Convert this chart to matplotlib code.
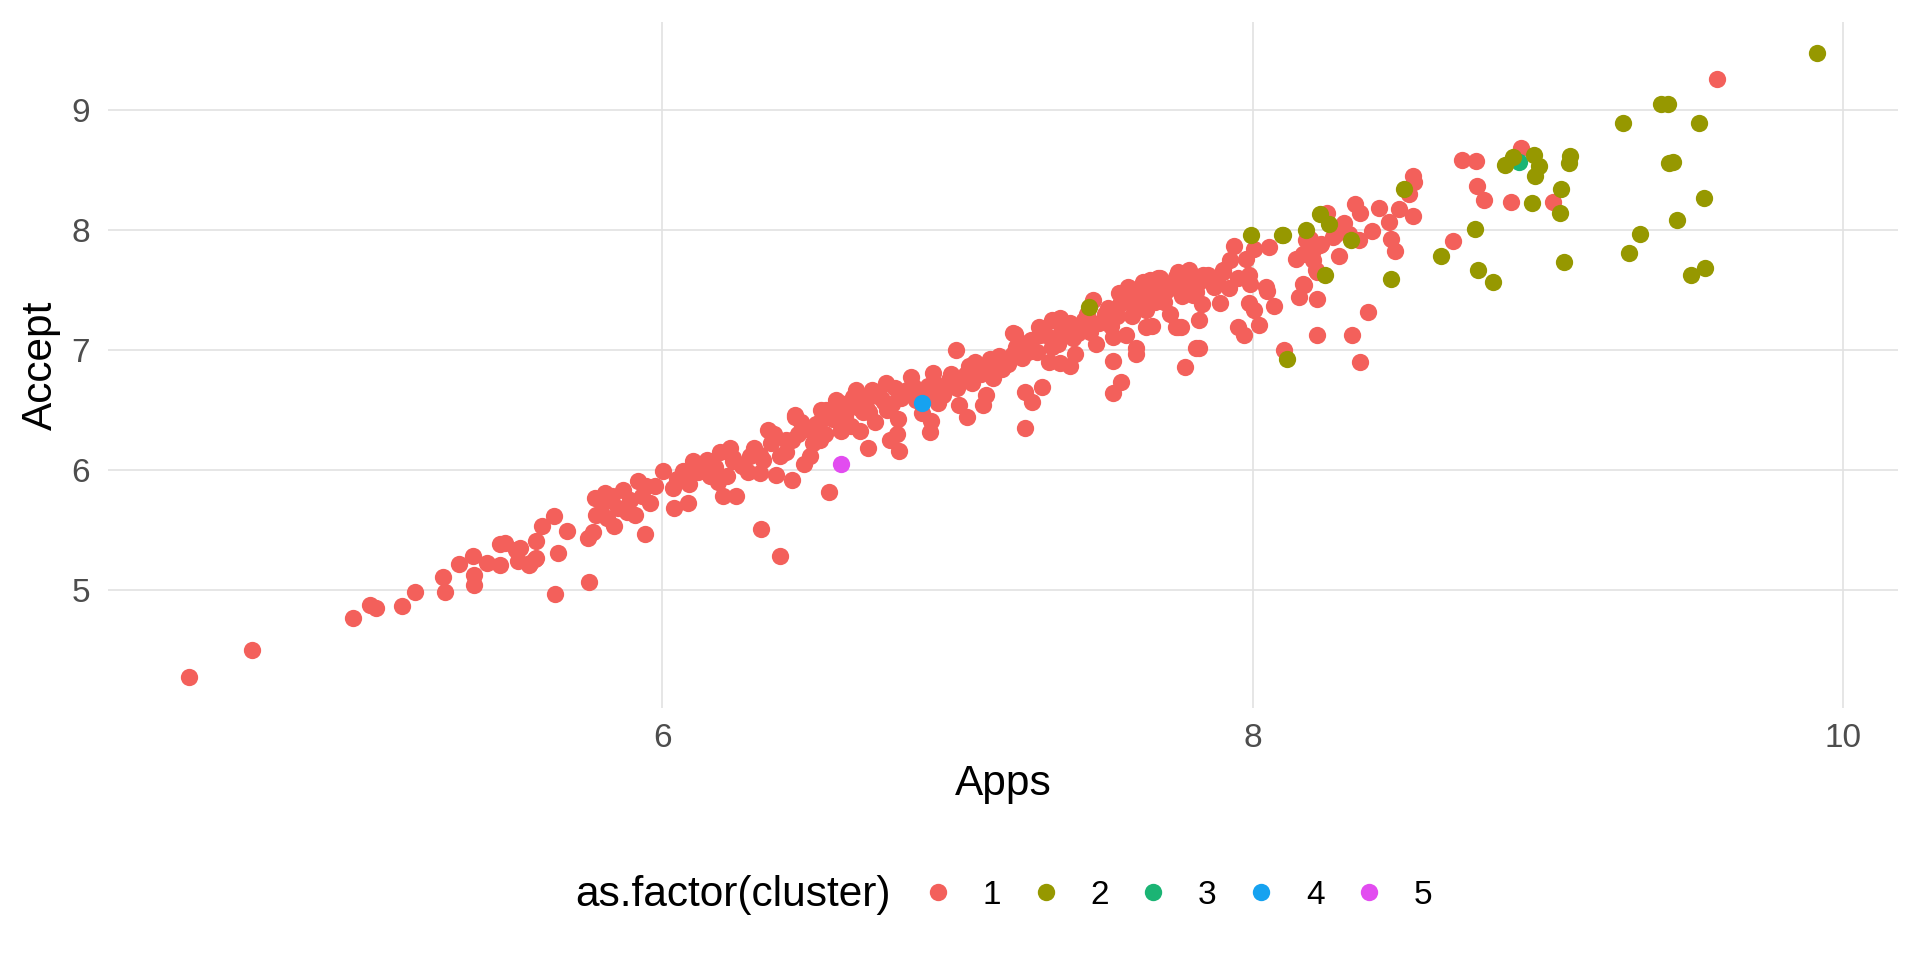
import matplotlib
matplotlib.use("Agg")
import matplotlib.pyplot as plt
from matplotlib.lines import Line2D
import numpy as np

plt.rcParams['font.family'] = ['Liberation Sans', 'DejaVu Sans']

# log(Apps), log(Accept), one list of pairs per cluster
cluster1 = [
    # lower-left tail
    (4.398, 4.273), (4.609, 4.497), (4.951, 4.766), (5.010, 4.869), (5.029, 4.844),
    (5.119, 4.863), (5.162, 4.983), (5.256, 5.107), (5.264, 4.979), (5.310, 5.215),
    (5.359, 5.278), (5.362, 5.118), (5.362, 5.035), (5.405, 5.224), (5.450, 5.376),
    (5.467, 5.390), (5.450, 5.204), (5.506, 5.334), (5.512, 5.237), (5.549, 5.209),
    (5.568, 5.257), (5.574, 5.403), (5.594, 5.534), (5.638, 4.960), (5.751, 5.060),
    (5.647, 5.302), (5.551, 5.224), (5.572, 5.265), (5.517, 5.348), (5.634, 5.617),
    (5.678, 5.487), (5.749, 5.431), (5.764, 5.478), (5.777, 5.625), (5.813, 5.598),
    (5.771, 5.764), (5.805, 5.805), (5.837, 5.534), (5.867, 5.833), (5.907, 5.625),
    (5.918, 5.902), (5.946, 5.860), (5.975, 5.860), (5.890, 5.750), (5.941, 5.465),
    (5.800, 5.720), (5.850, 5.680), (5.830, 5.780), (5.880, 5.650), (5.930, 5.780),
    (5.960, 5.720),
    # band 6.0 - 6.8
    (6.003, 5.991), (6.037, 5.847), (6.039, 5.681), (6.087, 5.722), (6.070, 5.985),
    (6.104, 6.068), (6.150, 6.082), (6.161, 5.943), (6.206, 5.777), (6.251, 5.777),
    (6.229, 6.180), (6.195, 6.151), (6.240, 6.068), (6.296, 6.110), (6.330, 5.972),
    (6.387, 5.958), (6.441, 5.916), (6.358, 6.332), (6.449, 6.442), (6.500, 6.332),
    (6.533, 6.249), (6.421, 6.249), (6.398, 6.110), (6.500, 6.110), (6.556, 6.498),
    (6.601, 6.554), (6.646, 6.609), (6.692, 6.581), (6.607, 6.318), (6.669, 6.318),
    (6.697, 6.180), (6.398, 5.278), (6.336, 5.506), (6.564, 5.811),
    (6.120, 5.980), (6.180, 6.020), (6.220, 5.950), (6.270, 6.030), (6.310, 6.180),
    (6.340, 6.080), (6.370, 6.220), (6.420, 6.150), (6.460, 6.300), (6.480, 6.050),
    (6.520, 6.380), (6.550, 6.300), (6.580, 6.420), (6.620, 6.450), (6.640, 6.360),
    (6.660, 6.520), (6.700, 6.480), (6.720, 6.400), (6.740, 6.600), (6.760, 6.500),
    (6.449, 6.456), (6.658, 6.664), (6.844, 6.775), (6.590, 6.581), (6.539, 6.498),
    (6.607, 6.332),
    (6.050, 5.920), (6.090, 5.880), (6.140, 6.020), (6.190, 5.900), (6.240, 6.100),
    (6.290, 5.980), (6.330, 6.120), (6.380, 6.300), (6.440, 6.250), (6.470, 6.400),
    (6.510, 6.220), (6.540, 6.420), (6.570, 6.500), (6.610, 6.400), (6.650, 6.580),
    (6.690, 6.520), (6.710, 6.660), (6.750, 6.560),
    # band 6.7 - 7.9
    (6.759, 6.720), (6.917, 6.803), (7.187, 7.135), (7.322, 7.246), (7.458, 7.413),
    (7.617, 7.496), (6.996, 6.997), (7.194, 7.127), (7.032, 6.442), (7.007, 6.539),
    (7.086, 6.539), (7.098, 6.623), (6.908, 6.313), (6.912, 6.406), (6.934, 6.553),
    (6.802, 6.152), (6.794, 6.299), (6.773, 6.249), (7.228, 6.351), (7.287, 6.692),
    (7.228, 6.650), (7.254, 6.567), (7.380, 6.864), (7.346, 6.890),
    (6.620, 6.550), (6.680, 6.480), (6.720, 6.620), (6.780, 6.550), (6.800, 6.420),
    (6.830, 6.660), (6.860, 6.580), (6.880, 6.470), (6.900, 6.700), (6.950, 6.620),
    (6.970, 6.750), (7.000, 6.680), (7.030, 6.800), (7.050, 6.720), (7.060, 6.900),
    (7.100, 6.850), (7.120, 6.760), (7.140, 6.950), (7.170, 6.880), (7.200, 7.020),
    (7.220, 6.930), (7.250, 7.080), (7.270, 6.980), (7.300, 7.120), (7.310, 6.900),
    (7.340, 7.050), (7.360, 7.180), (7.390, 7.100), (7.400, 6.960), (7.430, 7.250),
    (7.450, 7.150), (7.470, 7.050), (7.500, 7.300), (7.520, 7.200), (7.550, 7.380),
    (7.570, 7.120), (7.590, 7.280), (7.620, 7.420), (7.640, 7.330), (7.660, 7.200),
    (7.680, 7.500), (7.700, 7.400), (7.720, 7.300), (7.740, 7.550), (7.760, 7.450),
    (7.790, 7.580), (7.810, 7.480), (7.830, 7.380), (7.850, 7.620), (7.870, 7.520),
    (7.900, 7.660),
    (6.790, 6.680), (6.810, 6.600), (6.850, 6.700), (6.890, 6.620), (6.920, 6.720),
    (6.940, 6.660), (6.980, 6.800), (7.010, 6.740), (7.040, 6.860), (7.080, 6.800),
    (7.110, 6.920), (7.150, 6.840), (7.190, 6.960), (7.210, 7.060), (7.240, 6.980),
    (7.280, 7.120), (7.320, 7.020), (7.350, 7.150), (7.380, 7.220), (7.410, 7.140),
    (7.440, 7.300), (7.480, 7.220), (7.510, 7.350), (7.540, 7.280), (7.580, 7.400),
    (7.610, 7.340), (7.630, 7.480), (7.670, 7.400), (7.690, 7.560), (7.710, 7.500),
    (7.750, 7.600), (7.780, 7.520), (7.820, 7.560), (7.860, 7.600),
    (7.278, 7.190), (7.346, 7.260), (7.549, 7.468), (7.583, 7.510), (7.651, 7.579),
    (7.685, 7.593), (7.747, 7.648), (7.741, 7.191), (7.640, 7.190), (7.527, 7.107),
    (7.606, 7.011), (7.527, 6.642), (7.555, 6.733), (7.527, 6.905), (7.606, 6.961),
    (7.772, 6.858), (7.747, 7.191), (7.809, 7.011),
    # right of the band, 7.7 - 8.6
    (8.217, 7.648), (8.173, 7.537), (8.156, 7.440), (8.217, 7.421), (8.390, 7.310),
    (8.217, 7.119), (8.338, 7.124), (8.106, 6.997), (8.365, 6.897), (8.072, 7.362),
    (8.021, 7.202), (7.970, 7.121), (7.952, 7.185), (7.820, 7.246), (7.820, 7.011),
    (7.758, 7.185), (8.048, 7.490), (7.989, 7.385), (8.006, 7.329), (7.888, 7.385),
    (7.920, 7.510), (7.798, 7.454), (7.800, 7.580), (7.880, 7.600), (7.950, 7.600),
    (7.990, 7.550),
    (8.253, 8.141), (8.347, 8.210), (8.364, 8.137), (8.427, 8.177), (8.495, 8.170),
    (8.543, 8.451), (8.531, 8.299), (8.543, 8.111), (8.461, 8.063), (8.404, 7.986),
    (8.311, 8.055), (8.360, 7.911), (8.281, 7.967), (8.227, 7.875), (8.181, 7.911),
    (8.148, 7.759), (8.294, 7.781), (8.204, 7.745), (8.215, 7.662), (8.469, 7.925),
    (8.484, 7.820), (8.057, 7.855), (8.006, 7.842), (7.936, 7.864), (7.978, 7.759),
    (7.922, 7.745), (7.899, 7.648), (7.989, 7.620), (8.046, 7.523), (7.831, 7.620),
    (7.786, 7.662), (7.741, 7.606), (7.679, 7.593), (7.628, 7.564), (7.577, 7.523),
    (8.548, 8.399), (8.328, 7.967), (8.272, 7.939), (8.232, 7.884), (8.193, 7.925),
    (8.204, 7.828), (8.172, 7.800), (8.172, 7.543),
    # upper right
    (8.710, 8.584), (8.757, 8.573), (8.762, 8.368), (8.785, 8.244), (8.876, 8.230),
    (8.911, 8.678), (8.679, 7.905), (9.017, 8.227), (9.575, 9.258),
]

cluster2 = [
    (9.911, 9.471), (9.384, 9.047), (9.409, 9.047), (9.255, 8.889), (9.514, 8.889),
    (9.075, 8.618), (9.071, 8.554), (9.412, 8.554), (9.423, 8.565), (8.954, 8.626),
    (8.969, 8.529), (8.958, 8.451), (9.046, 8.335), (8.947, 8.219), (9.043, 8.141),
    (9.529, 8.266), (9.438, 8.080), (9.314, 7.963), (9.276, 7.806), (9.056, 7.728),
    (9.486, 7.620), (9.534, 7.678), (8.856, 8.543), (8.881, 8.609), (8.754, 8.005),
    (8.640, 7.778), (8.764, 7.667), (8.816, 7.565), (8.514, 8.341), (8.227, 8.133),
    (8.258, 8.050), (8.334, 7.911), (8.181, 7.994), (8.247, 7.618), (8.469, 7.585),
    (8.102, 7.953), (7.995, 7.953), (8.099, 7.958), (7.445, 7.352), (8.117, 6.922),
]

cluster3 = [(8.902, 8.562)]
cluster4 = [(6.881, 6.554)]
cluster5 = [(6.604, 6.049)]

cluster_names = ['1', '2', '3', '4', '5']
colors = ['#F3605B', '#969800', '#1BB474', '#16A2F0', '#E24CF0']

W, H = 1920, 960
left, right, top, bottom = 108, 1898, 22, 708
fig = plt.figure(figsize=(W / 100, H / 100), dpi=100)
ax = fig.add_axes([left / W, 1 - bottom / H, (right - left) / W, (bottom - top) / H])

groups = [cluster1, cluster3, cluster2, cluster4, cluster5]
group_cols = [colors[0], colors[2], colors[1], colors[3], colors[4]]
for z, (pts, col) in enumerate(zip(groups, group_cols)):
    arr = np.array(pts)
    ax.scatter(arr[:, 0], arr[:, 1], s=155, color=col, linewidths=0, zorder=2 + z)

# ggplot style 5% expansion of the data range
allpts = np.array(cluster1 + cluster2 + cluster3 + cluster4 + cluster5)
xmin, xmax = allpts[:, 0].min(), allpts[:, 0].max()
ymin, ymax = allpts[:, 1].min(), allpts[:, 1].max()
ax.set_xlim(xmin - 0.05 * (xmax - xmin), xmax + 0.05 * (xmax - xmin))
ax.set_ylim(ymin - 0.05 * (ymax - ymin), ymax + 0.05 * (ymax - ymin))
ax.set_xticks([6, 8, 10])
ax.set_yticks([5, 6, 7, 8, 9])
ax.grid(True, color='#E2E2E2', linewidth=1.2, zorder=0)
ax.set_axisbelow(True)
for sp in ax.spines.values():
    sp.set_visible(False)
ax.tick_params(axis='x', length=0, pad=11, labelsize=24, labelcolor='#4D4D4D')
ax.tick_params(axis='y', length=0, pad=13, labelsize=24, labelcolor='#4D4D4D')

ax.set_xlabel('Apps', fontsize=30.5)
ax.set_ylabel('Accept', fontsize=30.5)
ax.xaxis.set_label_coords(0.5, -(784 - bottom) / (bottom - top))
ax.xaxis.label.set_va('center')
ax.yaxis.set_label_coords(-(left - 41) / (right - left), 0.5)
ax.yaxis.label.set_va('center')

# legend at the bottom, title on the left like ggplot
leg_y = 1 - 895 / H
fig.text(575 / W, leg_y, 'as.factor(cluster)', fontsize=30.5, ha='left', va='center')
handles = [Line2D([], [], marker='o', linestyle='', markersize=12.5,
                  markerfacecolor=c, markeredgewidth=0) for c in colors]
fig.legend(handles, cluster_names, loc='center left', bbox_to_anchor=(921 / W, leg_y),
           ncol=5, frameon=False, fontsize=24, handlelength=1.0, handletextpad=0.84,
           columnspacing=0.84, borderpad=0, borderaxespad=0)

fig.savefig('out.png', dpi=100)
